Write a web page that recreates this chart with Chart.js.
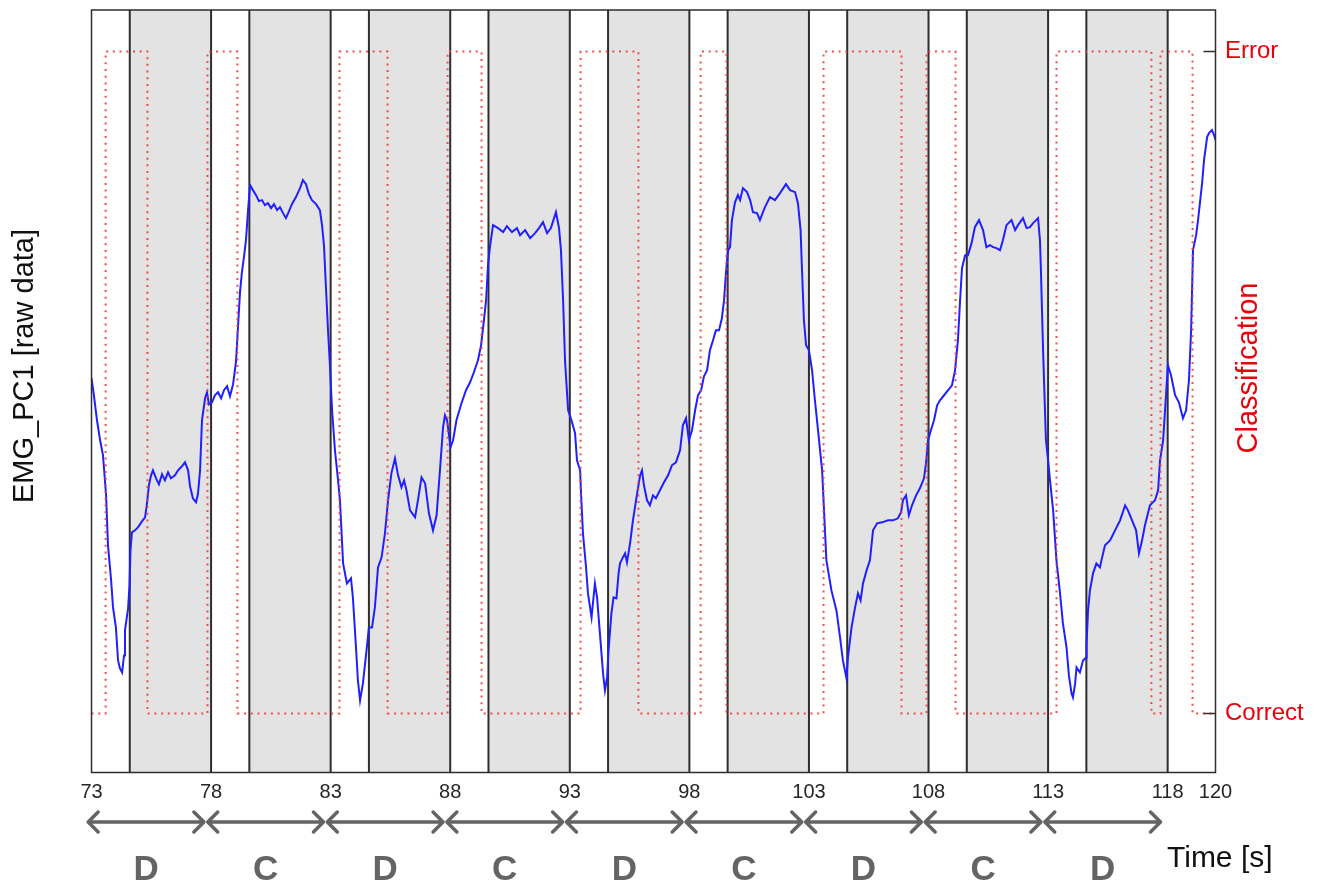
<!DOCTYPE html>
<html>
<head>
<meta charset="utf-8">
<title>EMG_PC1 and classification</title>
<script src="https://cdn.jsdelivr.net/npm/chart.js@4.4.1/dist/chart.umd.min.js"></script>
<style>
  html, body { margin: 0; padding: 0; background: #ffffff; }
  #wrap { width: 1320px; height: 885px; }
</style>
</head>
<body>
<div id="wrap"><canvas id="chart" width="1320" height="885"></canvas></div>
<script>
// Time axis (seconds)
const xMin = 73;
const xMax = 120;
const xTickValues = [73, 78, 83, 88, 93, 98, 103, 108, 113, 118, 120];

// EMG first principal component (raw data, arbitrary units)
const emgTime = [
  73.00, 73.10, 73.23, 73.36, 73.48, 73.61, 73.69, 73.82, 73.90, 74.02,
  74.11, 74.19, 74.28, 74.36, 74.40, 74.53, 74.59, 74.63, 74.69, 74.82,
  74.94, 75.11, 75.24, 75.32, 75.40, 75.49, 75.57, 75.70, 75.82, 75.95,
  76.07, 76.20, 76.32, 76.49, 76.62, 76.78, 76.91, 77.04, 77.12, 77.24,
  77.37, 77.45, 77.54, 77.62, 77.75, 77.83, 77.91, 78.04, 78.16, 78.29,
  78.42, 78.54, 78.67, 78.79, 78.92, 79.04, 79.13, 79.21, 79.29, 79.38,
  79.46, 79.54, 79.63, 79.75, 79.88, 80.00, 80.13, 80.25, 80.38, 80.51,
  80.63, 80.76, 80.88, 81.01, 81.13, 81.26, 81.38, 81.55, 81.72, 81.84,
  81.97, 82.09, 82.22, 82.39, 82.55, 82.64, 82.72, 82.81, 82.89, 82.97,
  83.06, 83.18, 83.31, 83.39, 83.52, 83.68, 83.85, 83.93, 84.06, 84.14,
  84.23, 84.35, 84.50, 84.60, 84.73, 84.85, 84.98, 85.13, 85.27, 85.40,
  85.54, 85.69, 85.82, 85.96, 86.07, 86.17, 86.32, 86.53, 86.65, 86.80,
  86.95, 87.11, 87.28, 87.43, 87.57, 87.70, 87.78, 87.87, 88.01, 88.12,
  88.26, 88.47, 88.66, 88.83, 88.99, 89.16, 89.29, 89.41, 89.50, 89.58,
  89.66, 89.79, 90.00, 90.21, 90.37, 90.58, 90.79, 90.92, 91.13, 91.34,
  91.55, 91.71, 91.88, 92.05, 92.21, 92.42, 92.55, 92.63, 92.72, 92.80,
  92.93, 93.07, 93.22, 93.30, 93.43, 93.47, 93.55, 93.68, 93.76, 93.91,
  94.05, 94.14, 94.26, 94.39, 94.47, 94.56, 94.62, 94.74, 94.83, 94.95,
  95.04, 95.10, 95.22, 95.31, 95.39, 95.52, 95.64, 95.77, 95.85, 95.94,
  96.02, 96.10, 96.23, 96.35, 96.48, 96.60, 96.77, 96.94, 97.11, 97.27,
  97.44, 97.61, 97.73, 97.86, 97.98, 98.11, 98.24, 98.36, 98.49, 98.61,
  98.74, 98.86, 98.99, 99.11, 99.24, 99.36, 99.45, 99.53, 99.62, 99.70,
  99.78, 99.91, 100.03, 100.12, 100.24, 100.41, 100.54, 100.66, 100.83, 100.95,
  101.16, 101.37, 101.58, 101.79, 102.04, 102.21, 102.42, 102.54, 102.65, 102.71,
  102.79, 102.88, 103.00, 103.13, 103.25, 103.38, 103.55, 103.73, 103.94, 104.15,
  104.30, 104.42, 104.57, 104.63, 104.78, 104.93, 105.05, 105.16, 105.26, 105.41,
  105.55, 105.68, 105.85, 106.06, 106.31, 106.52, 106.72, 106.85, 106.93, 107.06,
  107.18, 107.31, 107.48, 107.64, 107.81, 107.90, 107.98, 108.10, 108.23, 108.36,
  108.48, 108.65, 108.82, 108.98, 109.11, 109.23, 109.32, 109.40, 109.53, 109.65,
  109.80, 109.94, 110.11, 110.28, 110.42, 110.57, 110.70, 110.84, 110.99, 111.11,
  111.26, 111.47, 111.62, 111.74, 111.95, 112.10, 112.24, 112.37, 112.58, 112.66,
  112.70, 112.79, 112.91, 113.00, 113.08, 113.21, 113.35, 113.50, 113.62, 113.77,
  113.87, 113.98, 114.04, 114.13, 114.19, 114.33, 114.46, 114.59, 114.61, 114.67,
  114.75, 114.88, 115.02, 115.17, 115.23, 115.38, 115.59, 115.80, 116.01, 116.22,
  116.34, 116.51, 116.68, 116.80, 116.93, 117.05, 117.26, 117.47, 117.60, 117.68,
  117.81, 117.93, 118.01, 118.14, 118.31, 118.47, 118.64, 118.77, 118.89, 118.98,
  119.06, 119.19, 119.27, 119.44, 119.52, 119.65, 119.73, 119.85, 119.94, 120.00
];
const emgValue = [
  39.4, 37.7, 35.2, 33.2, 31.7, 27.7, 22.7, 19.2, 16.5, 14.5,
  11.2, 10.4, 10.0, 11.7, 14.2, 16.4, 18.7, 22.2, 24.0, 24.2,
  24.5, 25.1, 25.5, 26.9, 28.7, 29.7, 30.2, 29.4, 28.8, 29.8,
  29.2, 30.0, 29.4, 29.7, 30.2, 30.6, 31.0, 30.2, 28.6, 27.4,
  27.0, 27.8, 30.2, 35.2, 37.4, 38.0, 36.8, 37.0, 37.7, 38.0,
  37.4, 38.2, 38.6, 37.6, 38.8, 41.0, 44.7, 48.0, 50.0, 51.6,
  53.2, 56.0, 58.7, 58.2, 57.7, 57.1, 57.2, 56.7, 56.9, 56.4,
  56.8, 56.2, 56.5, 55.9, 55.4, 56.1, 56.8, 57.5, 58.4, 59.2,
  58.8, 57.8, 57.2, 56.8, 56.2, 54.7, 52.7, 48.2, 44.2, 40.7,
  36.2, 32.2, 29.2, 27.2, 20.9, 18.9, 19.4, 17.5, 12.5, 9.2,
  7.2, 8.9, 12.2, 14.5, 14.5, 16.5, 20.5, 21.5, 23.9, 27.2,
  29.9, 31.4, 29.7, 28.5, 29.2, 28.2, 26.2, 25.5, 27.2, 29.5,
  28.9, 25.9, 24.2, 25.7, 30.2, 34.5, 35.7, 35.2, 32.5, 33.2,
  35.2, 36.9, 38.2, 39.0, 40.0, 41.2, 42.7, 45.2, 47.2, 50.7,
  52.5, 54.7, 54.4, 54.0, 54.6, 54.0, 54.4, 53.7, 54.2, 53.4,
  53.9, 54.4, 55.0, 53.9, 54.4, 56.0, 54.4, 52.2, 47.2, 41.2,
  36.2, 35.2, 33.9, 31.2, 30.2, 27.9, 23.9, 20.5, 17.9, 15.5,
  18.9, 17.5, 13.9, 9.9, 8.2, 9.5, 12.2, 15.9, 17.5, 17.4,
  19.9, 20.9, 21.5, 21.9, 21.0, 22.9, 25.2, 27.2, 28.4, 29.7,
  30.2, 28.7, 27.2, 26.7, 27.7, 27.4, 28.2, 29.0, 29.7, 30.7,
  31.0, 32.2, 34.7, 35.4, 33.2, 34.2, 36.2, 37.7, 38.2, 39.6,
  40.2, 42.2, 43.2, 44.2, 44.2, 45.4, 47.2, 50.0, 52.2, 52.5,
  55.2, 57.0, 57.7, 57.2, 58.4, 58.0, 57.2, 56.0, 55.9, 55.2,
  56.5, 57.5, 57.2, 57.9, 58.8, 58.2, 58.0, 56.9, 54.2, 50.2,
  45.2, 42.7, 42.2, 40.2, 37.2, 34.2, 30.2, 21.2, 18.2, 16.2,
  13.5, 11.2, 9.4, 11.5, 14.5, 16.5, 17.9, 17.2, 18.9, 20.2,
  21.2, 24.2, 24.9, 25.0, 25.2, 25.2, 25.4, 26.0, 27.2, 27.7,
  25.7, 26.7, 27.7, 28.4, 29.4, 31.0, 33.2, 34.2, 35.2, 36.7,
  37.2, 37.7, 38.2, 38.7, 40.2, 43.2, 47.2, 50.4, 51.7, 51.7,
  52.9, 54.5, 55.2, 54.2, 52.5, 52.7, 52.5, 52.4, 52.2, 53.2,
  54.7, 55.2, 54.2, 54.7, 55.4, 54.4, 54.5, 54.9, 55.4, 53.2,
  50.2, 42.2, 33.2, 31.2, 29.2, 26.2, 21.2, 17.9, 14.9, 12.5,
  9.7, 7.9, 7.5, 8.9, 10.5, 10.0, 11.2, 11.5, 12.9, 16.2,
  18.2, 19.9, 20.9, 20.5, 21.2, 22.7, 23.2, 24.2, 25.2, 26.7,
  26.2, 25.2, 24.2, 21.9, 23.2, 24.7, 26.7, 27.2, 28.2, 31.2,
  33.2, 37.7, 40.7, 39.7, 37.7, 37.0, 35.4, 36.2, 39.2, 44.2,
  52.2, 53.7, 55.2, 58.9, 61.2, 63.5, 63.9, 64.2, 63.7, 63.2
];
const emgMin = 0;
const emgMax = 76.2;

// Classifier output: 0 = correct, 1 = error; state holds from each switch time
const classTimes = [73, 73.59, 75.34, 77.85, 79.10, 83.37, 85.38, 87.89, 89.31, 93.45,
  95.87, 98.47, 99.55, 103.61, 106.87, 107.92, 109.13, 113.35, 117.32, 117.70, 119.04, 120];
const classStates = [0, 1, 0, 1, 0, 1, 0, 1, 0, 1,
  0, 1, 0, 1, 0, 1, 0, 1, 0, 1, 0, 0];
const classLabels = { 0: 'Correct', 1: 'Error' };

// Trial phases: shaded part of each 5 s trial, and D/C segments
const bandStarts = [74.6, 79.6, 84.6, 89.6, 94.6, 99.6, 104.6, 109.6, 114.6];
const bandEnds = [78, 83, 88, 93, 98, 103, 108, 113, 118];
const segmentStarts = [73, 78, 83, 88, 93, 98, 103, 108, 113];
const segmentLabels = ['D', 'C', 'D', 'C', 'D', 'C', 'D', 'C', 'D'];
const segmentLength = 5;

const RED = '#e8000b';
const FONT = "'Liberation Sans', Arial, sans-serif";

Chart.defaults.font.family = FONT;

const trialDecor = {
  id: 'trialDecor',
  beforeDatasetsDraw(chart) {
    const { ctx, chartArea: a, scales: { x } } = chart;
    ctx.save();
    ctx.fillStyle = '#e3e3e3';
    bandStarts.forEach((s, i) => {
      const x0 = x.getPixelForValue(s);
      const x1 = x.getPixelForValue(bandEnds[i]);
      ctx.fillRect(x0, a.top, x1 - x0, a.bottom - a.top);
    });
    ctx.strokeStyle = '#2e2e2e';
    ctx.lineWidth = 2;
    bandStarts.concat(bandEnds).forEach(v => {
      const px = x.getPixelForValue(v);
      ctx.beginPath();
      ctx.moveTo(px, a.top);
      ctx.lineTo(px, a.bottom);
      ctx.stroke();
    });
    ctx.restore();
  },
  afterDraw(chart) {
    const { ctx, chartArea: a, scales: { x, y2 } } = chart;
    ctx.save();
    // plot frame
    ctx.strokeStyle = '#2e2e2e';
    ctx.lineWidth = 1.5;
    ctx.strokeRect(a.left, a.top, a.right - a.left, a.bottom - a.top);
    // inward tick marks of the classification axis
    Object.keys(classLabels).forEach(k => {
      const py = y2.getPixelForValue(Number(k));
      ctx.beginPath();
      ctx.moveTo(a.right - 12, py);
      ctx.lineTo(a.right, py);
      ctx.stroke();
    });

    // segment arrows and D / C letters
    ctx.strokeStyle = '#646464';
    ctx.fillStyle = '#646464';
    ctx.lineWidth = 3.5;
    ctx.lineCap = 'round';
    ctx.lineJoin = 'round';
    const arrowY = 822;
    segmentStarts.forEach((s, i) => {
      const mid = s + segmentLength / 2 - 0.22;
      const x0 = x.getPixelForValue(mid - 2.42);
      const x1 = x.getPixelForValue(mid + 2.42);
      ctx.beginPath();
      ctx.moveTo(x0, arrowY);
      ctx.lineTo(x1, arrowY);
      ctx.moveTo(x0 + 10, arrowY - 10);
      ctx.lineTo(x0, arrowY);
      ctx.lineTo(x0 + 10, arrowY + 10);
      ctx.moveTo(x1 - 10, arrowY - 10);
      ctx.lineTo(x1, arrowY);
      ctx.lineTo(x1 - 10, arrowY + 10);
      ctx.stroke();
      ctx.font = 'bold 35px ' + FONT;
      ctx.textAlign = 'center';
      ctx.textBaseline = 'alphabetic';
      ctx.fillText(segmentLabels[i], x.getPixelForValue(mid), 880);
    });

    // axis titles
    ctx.fillStyle = '#111111';
    ctx.font = '30px ' + FONT;
    ctx.textAlign = 'left';
    ctx.textBaseline = 'alphabetic';
    ctx.fillText('Time [s]', 1167, 867);

    ctx.font = '29px ' + FONT;
    ctx.textAlign = 'center';
    ctx.textBaseline = 'middle';
    ctx.save();
    ctx.translate(25, 366);
    ctx.rotate(-Math.PI / 2);
    ctx.fillText('EMG_PC1 [raw data]', 0, 0);
    ctx.restore();

    ctx.save();
    ctx.fillStyle = RED;
    ctx.translate(1249, 368);
    ctx.rotate(-Math.PI / 2);
    ctx.fillText('Classification', 0, 0);
    ctx.restore();

    ctx.restore();
  }
};

new Chart(document.getElementById('chart'), {
  type: 'line',
  data: {
    datasets: [
      {
        label: 'EMG_PC1',
        data: emgTime.map((t, i) => ({ x: t, y: emgValue[i] })),
        yAxisID: 'y',
        borderColor: '#2020ff',
        borderWidth: 2,
        pointRadius: 0,
        tension: 0,
        order: 2
      },
      {
        label: 'Classification',
        data: classTimes.map((t, i) => ({ x: t, y: classStates[i] })),
        yAxisID: 'y2',
        stepped: 'before',
        borderColor: 'rgba(240, 60, 60, 0.9)',
        borderWidth: 2,
        borderDash: [2, 4.7],
        borderCapStyle: 'butt',
        pointRadius: 0,
        order: 1
      }
    ]
  },
  options: {
    responsive: false,
    animation: false,
    devicePixelRatio: 1,
    layout: { padding: { top: 10, left: 0, right: 0, bottom: 0 } },
    plugins: { legend: { display: false }, tooltip: { enabled: false } },
    scales: {
      x: {
        type: 'linear',
        min: xMin,
        max: xMax,
        grid: { display: false, drawTicks: false },
        border: { display: false },
        ticks: {
          autoSkip: false,
          maxRotation: 0,
          padding: 8,
          color: '#262626',
          font: { size: 20, family: FONT }
        },
        afterBuildTicks(scale) {
          scale.ticks = xTickValues.map(v => ({ value: v }));
        },
        afterFit(scale) {
          scale.height = 112.5;
          scale.paddingLeft = 0;
          scale.paddingRight = 0;
        }
      },
      y: {
        position: 'left',
        min: emgMin,
        max: emgMax,
        grid: { display: false, drawTicks: false },
        border: { display: false },
        ticks: { display: false },
        afterFit(scale) {
          scale.width = 91.5;
          scale.paddingTop = 0;
          scale.paddingBottom = 0;
        }
      },
      y2: {
        position: 'right',
        min: -0.0891,
        max: 1.0627,
        grid: { display: false, drawTicks: false },
        border: { display: false },
        ticks: {
          padding: 9.5,
          color: RED,
          font: { size: 24, family: FONT },
          callback: v => classLabels[v] || ''
        },
        afterBuildTicks(scale) {
          scale.ticks = Object.keys(classLabels).map(k => ({ value: Number(k) }));
        },
        afterFit(scale) {
          scale.width = 104.5;
          scale.paddingTop = 0;
          scale.paddingBottom = 0;
        }
      }
    }
  },
  plugins: [trialDecor]
});
</script>
</body>
</html>
